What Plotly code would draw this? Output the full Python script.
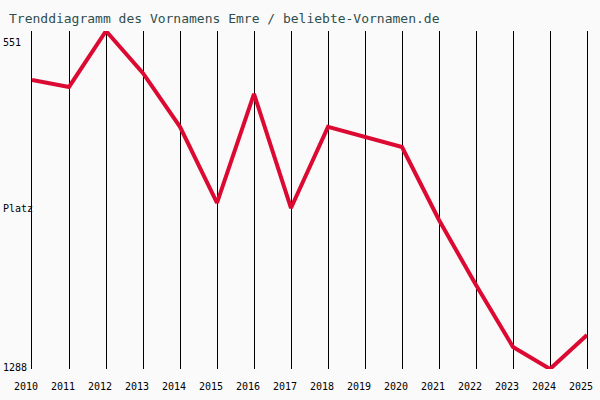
import plotly.graph_objects as go

years = list(range(2010, 2026))
ranks = [658, 673, 551, 643, 760, 926, 688, 937, 760, 782, 804, 963, 1105, 1240, 1288, 1214]
y_top, y_bottom = 551, 1288
title = "Trenddiagramm des Vornamens Emre / beliebte-Vornamen.de"
y_labels = ["551", "Platz", "1288"]

W, H = 600, 400
L, R, T, B = 32, 13, 31, 31
pw = W - L - R
ph = H - T - B

fig = go.Figure()
fig.add_trace(go.Scatter(
    x=years, y=ranks, mode="lines",
    line=dict(color="#dc0a32", width=4),
    hoverinfo="skip",
))

mono = "DejaVu Sans Mono"
fig.update_layout(
    width=W, height=H,
    margin=dict(l=L, r=R, t=T, b=B, pad=0, autoexpand=False),
    paper_bgcolor="#fafafa",
    plot_bgcolor="#fafafa",
    showlegend=False,
    title=dict(
        text=title, x=9 / W, xanchor="left", y=1 - 18 / H, yanchor="middle",
        font=dict(family=mono, size=13, color="#2f4f4f"),
        automargin=False,
    ),
    xaxis=dict(
        range=[2010, 2025], tickvals=years, ticktext=[str(y) for y in years],
        showgrid=True, gridcolor="black", gridwidth=1,
        zeroline=False, showline=False, ticks="",
        tickfont=dict(family=mono, size=10, color="black"),
        ticklabelshift=-6, ticklabelstandoff=10,
        fixedrange=True, automargin=False,
    ),
    yaxis=dict(
        range=[y_bottom, y_top], showgrid=False, zeroline=False,
        showticklabels=False, ticks="", fixedrange=True, automargin=False,
        showline=True, mirror=True, linecolor="black", linewidth=1,
    ),
)

label_pos = [42, 208, 367]
for txt, py in zip(y_labels, label_pos):
    fig.add_annotation(
        text=txt, xref="paper", yref="paper",
        x=(1 - L) / pw, y=(H - B - py) / ph,
        xanchor="left", yanchor="middle", showarrow=False,
        font=dict(family=mono, size=10, color="black"),
    )

fig.write_html("out.html")
